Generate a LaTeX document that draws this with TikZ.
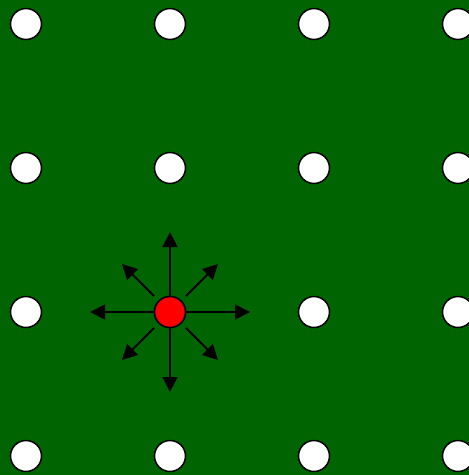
\documentclass[tikz,border=0pt]{standalone}
\usetikzlibrary{arrows.meta,calc}
\definecolor{bggreen}{HTML}{006400}
\begin{document}
\begin{tikzpicture}[x=1pt,y=-1pt,
  dot/.style={circle,draw=black,line width=1.5pt,fill=white,minimum size=31pt,inner sep=0pt},
  reddot/.style={circle,draw=black,line width=1.5pt,fill=red,minimum size=31pt,inner sep=0pt},
  arr/.style={draw=black,line width=2pt,-{Triangle[length=15pt,width=15pt]}}]
\fill[bggreen] (0,0) rectangle (469,475);
\useasboundingbox (0,0) rectangle (469,475);
\foreach \i/\x in {0/26,1/170,2/314,3/458}{
  \foreach \j/\y in {0/24,1/168,2/312,3/456}{
    \node[dot] (d\i\j) at (\x,\y) {};
  }
}
\node[reddot] (c) at (170,312) {};
\coordinate (tN) at (170,232);
\coordinate (tS) at (170,392);
\coordinate (tW) at (90,312);
\coordinate (tE) at (250,312);
\coordinate (tNE) at (218,264);
\coordinate (tNW) at (122,264);
\coordinate (tSE) at (218,360);
\coordinate (tSW) at (122,360);
\draw[arr] (c.north) -- (tN);
\draw[arr] (c.south) -- (tS);
\draw[arr] (c.west) -- (tW);
\draw[arr] (c.east) -- (tE);
\draw[arr] ($(c)+(16,-16)$) -- (tNE);
\draw[arr] ($(c)+(-16,-16)$) -- (tNW);
\draw[arr] ($(c)+(16,16)$) -- (tSE);
\draw[arr] ($(c)+(-16,16)$) -- (tSW);
\end{tikzpicture}
\end{document}
